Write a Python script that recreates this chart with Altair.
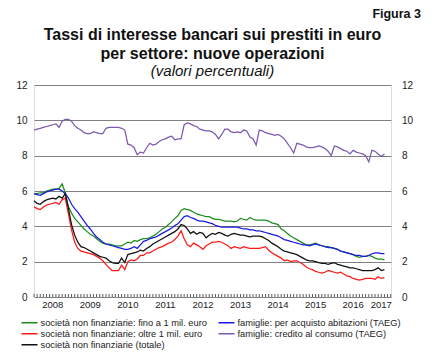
import altair as alt
import pandas as pd

FONT = "Liberation Sans"

YEARS = ["2008", "2009", "2010", "2011", "2012", "2013", "2014", "2015", "2016", "2017"]
YEAR_POS = [6, 18, 30, 42, 54, 66, 78, 90, 102, 111]  # month index at label centre
YEAR_EDGES = [12, 24, 36, 48, 60, 72, 84, 96, 108]

LABELS = [
    "società non finanziarie: fino a 1 mil. euro",
    "famiglie: per acquisto abitazioni (TAEG)",
    "società non finanziarie: oltre 1 mil. euro",
    "famiglie: credito al consumo (TAEG)",
    "società non finanziarie (totale)",
]
COLORS = ["#1e8c1e", "#1a1ae0", "#ff1a1a", "#7d5aae", "#111111"]

# monthly values, Jan 2008 - May 2017
green = [
    5.85, 5.85, 5.9, 5.9, 6.0, 6.05, 6.1, 6.1, 6.15, 6.4, 5.9, 5.1,
    4.75, 4.45, 4.25, 4.05, 3.85, 3.7, 3.55, 3.45, 3.3, 3.15, 3.05, 3.0,
    3.0, 2.95, 2.9, 2.9, 2.9, 3.0, 3.1, 3.05, 3.2, 3.15, 3.25, 3.3,
    3.3, 3.35, 3.45, 3.55, 3.7, 3.85, 3.95, 4.1, 4.25, 4.45, 4.6, 4.9,
    5.0, 4.95, 4.9, 4.8, 4.7, 4.65, 4.6, 4.55, 4.55, 4.45, 4.4, 4.4,
    4.35, 4.3, 4.3, 4.3, 4.25, 4.3, 4.45, 4.4, 4.35, 4.5, 4.4, 4.35,
    4.35, 4.35, 4.35, 4.3, 4.2, 4.15, 4.1, 3.85, 3.75, 3.6, 3.45, 3.35,
    3.25, 3.15, 3.05, 2.95, 2.95, 3.0, 3.05, 2.95, 2.9, 2.85, 2.85, 2.8,
    2.75, 2.7, 2.6, 2.55, 2.5, 2.45, 2.4, 2.3, 2.25, 2.3, 2.3, 2.35,
    2.3, 2.2, 2.15, 2.15, 2.1,
]
blue = [
    5.85, 5.8, 5.75, 5.85, 5.95, 6.0, 6.05, 6.1, 6.1, 6.0, 5.85, 5.6,
    5.25, 5.0, 4.8, 4.55, 4.3, 4.05, 3.85, 3.6, 3.4, 3.25, 3.1, 3.0,
    2.95, 2.9, 2.85, 2.8, 2.75, 2.7, 2.7, 2.75, 2.85, 2.75, 2.95, 3.15,
    3.2, 3.3, 3.35, 3.4, 3.5, 3.6, 3.7, 3.8, 3.9, 4.05, 4.15, 4.35,
    4.55, 4.6, 4.5, 4.45, 4.35, 4.3, 4.3, 4.25, 4.2, 4.15, 4.05, 4.0,
    3.95, 3.95, 3.95, 3.95, 3.95, 3.95, 3.9, 3.85, 3.85, 3.8, 3.8, 3.75,
    3.75, 3.7, 3.65, 3.6, 3.55, 3.5, 3.45, 3.35, 3.25, 3.2, 3.15, 3.1,
    3.05, 3.0, 2.95, 2.95, 2.9, 2.95, 3.0, 2.95, 2.9, 2.85, 2.8, 2.8,
    2.75, 2.7, 2.6, 2.55, 2.5, 2.45, 2.4, 2.35, 2.35, 2.3, 2.3, 2.35,
    2.45, 2.5, 2.5, 2.45, 2.45,
]
red = [
    5.1, 5.0, 4.95, 5.1, 5.2, 5.25, 5.3, 5.35, 5.25, 5.5, 5.6, 4.7,
    3.8, 3.1, 2.75, 2.6, 2.55, 2.5, 2.45, 2.4, 2.3, 2.2, 2.05, 1.85,
    1.65, 1.5, 1.5, 1.5, 1.8, 1.55, 2.0, 2.1, 2.05, 2.15, 2.35, 2.35,
    2.5, 2.5, 2.6, 2.7, 2.8, 2.85, 2.95, 3.05, 3.1, 3.25, 3.45, 3.75,
    3.3, 2.95, 2.85, 3.05, 2.95, 2.85, 2.7, 2.9, 3.0, 3.1, 3.1, 3.15,
    3.1, 3.0, 2.9, 2.75, 2.85, 2.8, 2.75, 2.85, 2.8, 2.75, 2.75, 2.75,
    2.75, 2.8, 2.85, 2.65, 2.5, 2.4, 2.3, 2.2, 2.05, 2.1, 2.0, 2.05,
    2.05, 1.95, 1.85, 1.7, 1.6, 1.55, 1.45, 1.4, 1.35, 1.4, 1.5, 1.45,
    1.4, 1.35, 1.4, 1.3, 1.2, 1.15, 1.05, 1.0, 0.95, 1.0, 1.05, 1.05,
    1.05, 1.0, 1.15, 1.05, 1.1,
]
purple = [
    9.45, 9.5, 9.55, 9.6, 9.65, 9.7, 9.75, 9.8, 9.6, 9.95, 10.05, 10.05,
    9.95, 9.7, 9.55, 9.45, 9.3, 9.25, 9.25, 9.35, 9.3, 9.25, 9.25, 9.55,
    9.6, 9.6, 9.6, 9.6, 9.55, 9.45, 8.65, 8.6, 8.45, 8.05, 8.2, 8.15,
    8.45, 8.7, 8.6, 8.65, 8.8, 8.9, 8.95, 9.05, 9.1, 8.9, 8.95, 8.95,
    9.75, 9.85, 9.8, 9.7, 9.65, 9.5, 9.45, 9.4, 9.4, 9.35, 9.2, 8.95,
    9.2, 9.5, 9.5, 9.35, 9.3, 9.35, 9.3, 9.45, 9.4, 9.05, 8.95, 8.6,
    9.45, 9.4, 9.3, 9.25, 9.2, 9.15, 9.2, 9.1, 8.95, 8.7, 8.45, 8.15,
    8.7, 8.65, 8.6, 8.5, 8.45, 8.45, 8.5, 8.55, 8.5, 8.4, 8.25, 8.0,
    8.55, 8.5, 8.4, 8.3, 8.25, 8.1, 8.3, 8.2, 8.15, 8.1, 8.0, 7.65,
    8.3, 8.25, 8.1, 7.95, 8.1,
]
black = [
    5.45, 5.3, 5.25, 5.4, 5.5, 5.55, 5.6, 5.55, 5.7, 5.6, 5.85, 5.0,
    4.1, 3.5, 3.1, 2.85, 2.8, 2.7, 2.6, 2.5, 2.4, 2.3, 2.25, 2.2,
    2.05, 1.95, 1.9, 1.9, 2.2, 1.95, 2.4, 2.45, 2.5, 2.55, 2.65, 2.6,
    2.75, 2.85, 3.0, 3.1, 3.2, 3.3, 3.4, 3.5, 3.6, 3.7, 3.85, 4.1,
    4.05, 3.85, 3.6, 3.7, 3.55, 3.65, 3.6, 3.35, 3.5, 3.6, 3.55, 3.65,
    3.6, 3.5, 3.45, 3.55, 3.6, 3.55, 3.5, 3.5, 3.45, 3.4, 3.45, 3.45,
    3.45, 3.4, 3.3, 3.2, 3.05, 2.95, 2.85, 2.7, 2.6, 2.55, 2.5, 2.45,
    2.4, 2.3, 2.2, 2.1, 2.05, 2.05, 2.0, 1.95, 1.9, 1.9, 1.85, 1.9,
    1.95, 1.85, 1.8, 1.75, 1.7, 1.65, 1.65, 1.6, 1.55, 1.5, 1.5, 1.5,
    1.5, 1.55, 1.65, 1.5, 1.55,
]

SERIES = [green, blue, red, purple, black]

rows = []
for order, (label, vals) in enumerate(zip(LABELS, SERIES)):
    for t, v in enumerate(vals):
        rows.append({"t": t, "v": v, "serie": label, "o": order})
df = pd.DataFrame(rows)

# legend fills column by column: left column green, red, black; right column blue, purple
LEG_ORDER = [0, 2, 4, 1, 3]
leg_domain = [LABELS[i] for i in LEG_ORDER]
leg_range = [COLORS[i] for i in LEG_ORDER]

W, H = 357, 212
X_DOMAIN = [0, 114.1]
xscale = alt.Scale(domain=X_DOMAIN, nice=False, zero=False)
yscale = alt.Scale(domain=[0, 12], nice=False)
GRID = "#808080"

lines = alt.Chart(df).mark_line(strokeWidth=1.25).encode(
    x=alt.X("t:Q", scale=xscale,
            axis=alt.Axis(values=YEAR_EDGES, grid=True, gridColor=GRID, gridWidth=1,
                          labels=False, ticks=False, domain=False, title=None)),
    y=alt.Y("v:Q", scale=yscale,
            axis=alt.Axis(orient="left", values=[0, 2, 4, 6, 8, 10, 12], grid=True,
                          gridColor=GRID, gridWidth=1, ticks=False, domain=False,
                          labelPadding=7, labelFont=FONT, labelFontSize=10,
                          labelColor="#222", title=None)),
    color=alt.Color("serie:N",
                    scale=alt.Scale(domain=leg_domain, range=leg_range),
                    legend=alt.Legend(orient="none", legendX=-13.5, legendY=232.3,
                                      columns=2, columnPadding=10, rowPadding=0,
                                      clipHeight=10.7, symbolType="stroke",
                                      symbolSize=256, symbolStrokeWidth=1.5,
                                      labelOffset=2, labelFont=FONT,
                                      labelFontSize=9.3, labelColor="#222",
                                      labelLimit=300, padding=0, title=None)),
    detail="o:N",
)

right_axis = alt.Chart(pd.DataFrame({"v": [0, 12]})).mark_point(opacity=0).encode(
    y=alt.Y("v:Q", scale=yscale,
            axis=alt.Axis(orient="right", values=[0, 2, 4, 6, 8, 10, 12], grid=False,
                          ticks=False, domain=False, labelPadding=10.5,
                          labelFont=FONT, labelFontSize=10, labelColor="#222",
                          title=None)),
)

minor = alt.Chart(pd.DataFrame({"t": list(range(0, 115))})).mark_rule(
    color="#333", strokeWidth=0.8
).encode(
    x=alt.X("t:Q", scale=xscale, axis=None),
    y=alt.value(H),
    y2=alt.value(H - 3),
)

year_labels = alt.Chart(pd.DataFrame({"t": YEAR_POS, "lab": YEARS})).mark_text(
    font=FONT, fontSize=9.5, color="#222", baseline="alphabetic", align="center"
).encode(
    x=alt.X("t:Q", scale=xscale, axis=None),
    y=alt.value(H + 11),
    text="lab:N",
)

one = alt.Data(values=[{"k": 1}])


def label(text, x, y, size, weight="normal", style="normal", align="center"):
    return alt.Chart(one).mark_text(
        text=text, font=FONT, fontSize=size, fontWeight=weight, fontStyle=style,
        align=align, baseline="alphabetic", color="#111"
    ).encode(x=alt.value(x), y=alt.value(y))


titles = [
    label("Figura 3", 387, -67, 12.5, weight="bold", align="right"),
    label("Tassi di interesse bancari sui prestiti in euro", W / 2, -45.5, 16, weight="bold"),
    label("per settore: nuove operazioni", W / 2, -26, 16, weight="bold"),
    label("(valori percentuali)", W / 2, -9, 15, style="italic"),
]

chart = alt.layer(lines, right_axis, minor, year_labels, *titles).resolve_axis(
    y="independent"
).properties(
    width=W, height=H,
    autosize=alt.AutoSizeParams(type="none"),
    padding={"left": 26, "top": 77, "right": 40, "bottom": 54},
).configure_view(stroke="#333", strokeWidth=1).configure(background="white")

chart.save("out.html", embed_options={"renderer": "svg", "actions": False})
